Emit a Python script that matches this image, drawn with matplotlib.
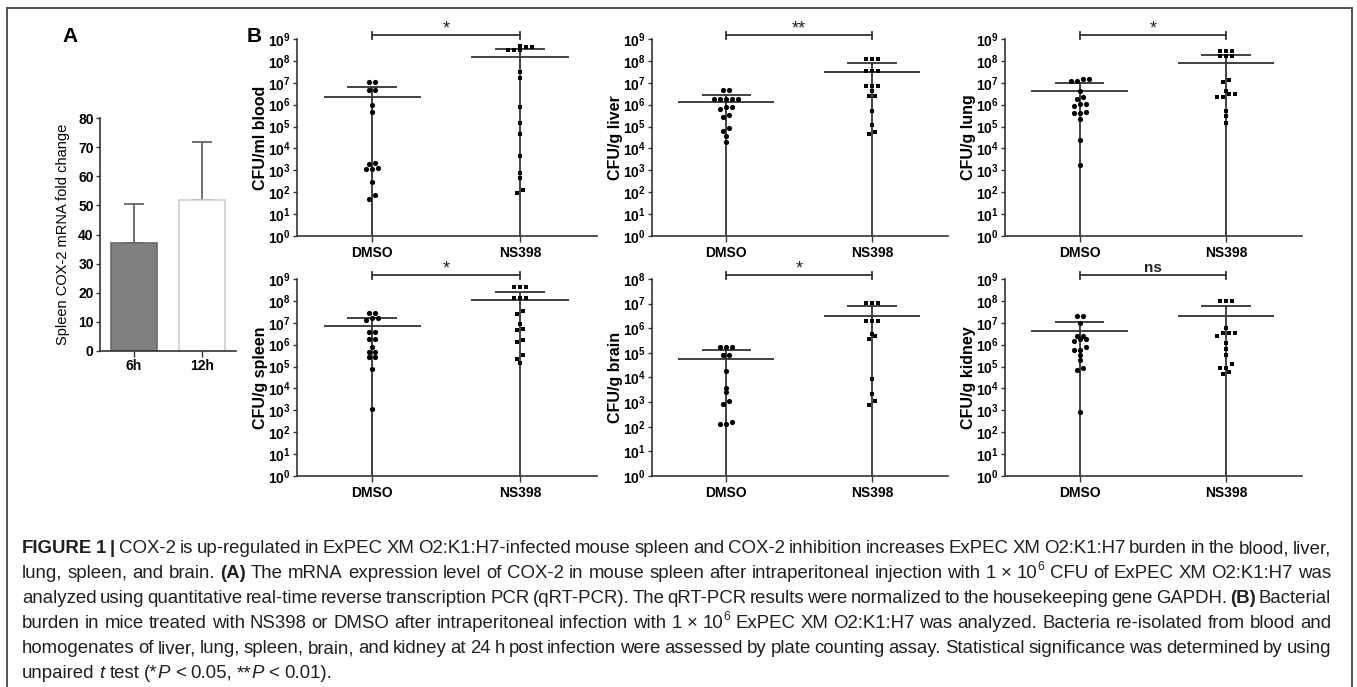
import numpy as np
import matplotlib
matplotlib.use("Agg")
import matplotlib.pyplot as plt
import matplotlib.ticker as mticker
import matplotlib.transforms as mtransforms
from matplotlib import font_manager

plt.rcParams["font.family"] = ["Liberation Sans", "DejaVu Sans"]
plt.rcParams["mathtext.fontset"] = "custom"
plt.rcParams["mathtext.rm"] = "Liberation Sans"
plt.rcParams["mathtext.bf"] = "Liberation Sans:bold"
plt.rcParams["mathtext.it"] = "Liberation Sans:italic"

# ---- data ----
# panel A
times = ["6h", "12h"]
fold_change = [37.1, 51.8]
fold_sd = [13.4, 19.8]

# panel B, CFU counts
groups = ["DMSO", "NS398"]
blood_dmso = [1.1e7, 1.1e7, 4.6e6, 4.6e6, 9.8e5, 4.4e5, 2.2e3, 2.0e3, 1.3e3, 1.1e3, 1.1e3, 3.0e2, 72, 48]
blood_ns398 = [5e8, 4.5e8, 4.5e8, 3.1e8, 3.1e8, 3.1e8, 3e7, 1.6e7, 7.6e5, 1.5e5, 4.5e4, 4.3e3, 7.6e2, 4.5e2, 1.2e2, 93]
liver_dmso = [4.8e6, 4.8e6, 1.8e6, 1.8e6, 1.8e6, 1.8e6, 1.8e6, 8.1e5, 8.1e5, 6.2e5, 3.4e5, 2.7e5, 8.3e4, 6.3e4, 3.7e4, 2.0e4]
liver_ns398 = [1.23e8, 1.23e8, 1.23e8, 3.3e7, 3.3e7, 3.3e7, 7.2e6, 7.2e6, 6.8e6, 4.0e6, 2.6e6, 2.6e6, 4.9e5, 1.2e5, 5.4e4, 4.7e4]
lung_dmso = [1.45e7, 1.45e7, 1.15e7, 1.15e7, 4.0e6, 2.3e6, 1.9e6, 1.05e6, 1.05e6, 8.9e5, 4.6e5, 4.1e5, 4.1e5, 2.2e5, 2.5e4, 1.8e3]
lung_ns398 = [2.7e8, 2.7e8, 2.7e8, 1.6e8, 1.6e8, 1.6e8, 1.4e7, 1.1e7, 4.3e6, 3.1e6, 3.0e6, 2.2e6, 2.2e6, 5.4e5, 2.9e5, 1.4e5]
spleen_dmso = [2.75e7, 2.75e7, 1.6e7, 1.6e7, 1.3e7, 3.7e6, 3.7e6, 1.8e6, 1.8e6, 7.6e5, 4.4e5, 4.4e5, 2.7e5, 2.7e5, 7.8e4, 1.1e3]
spleen_ns398 = [4.1e8, 4.1e8, 4.1e8, 1.3e8, 1.3e8, 1.3e8, 3.6e7, 2.6e7, 8.7e6, 5.1e6, 4.8e6, 1.66e6, 1.26e6, 3.2e5, 2.2e5, 1.4e5]
brain_dmso = [1.7e5, 1.7e5, 1.7e5, 8.3e4, 8.3e4, 1.9e4, 3.9e3, 2.5e3, 1.1e3, 8.3e2, 1.6e2, 1.3e2, 1.3e2]
brain_ns398 = [1.1e7, 1.1e7, 1.1e7, 2.0e6, 2.0e6, 2.0e6, 6.0e5, 4.9e5, 3.7e5, 8.5e3, 2.2e3, 1.1e3, 7.8e2]
kidney_dmso = [2.1e7, 2.1e7, 1.0e7, 2.5e6, 2.5e6, 1.9e6, 1.9e6, 1.5e6, 8.1e5, 5.8e5, 5.8e5, 3.4e5, 1.9e5, 8.9e4, 7.1e4, 8e2]
kidney_ns398 = [1.0e8, 1.0e8, 1.0e8, 6.0e6, 3.5e6, 3.5e6, 3.5e6, 2.5e6, 1.2e6, 6.2e5, 3.4e5, 1.3e5, 8.9e4, 8.9e4, 5.4e4, 4.5e4]

ylabels = ["CFU/ml blood", "CFU/g liver", "CFU/g lung", "CFU/g spleen", "CFU/g brain", "CFU/g kidney"]
signif = ["*", "**", "*", "*", "*", "ns"]
top_decade = [9, 9, 9, 9, 8, 9]

caption_lines = [
    [("FIGURE 1 | ", "b"), ("COX-2 is up-regulated in ExPEC XM O2:K1:H7-infected mouse spleen and COX-2 inhibition increases ExPEC XM O2:K1:H7 burden in the blood, liver,", "n")],
    [("lung, spleen, and brain. ", "n"), ("(A)", "b"), (" The mRNA expression level of COX-2 in mouse spleen after intraperitoneal injection with 1 \u00d7 10", "n"), ("6", "s"), (" CFU of ExPEC XM O2:K1:H7 was", "n")],
    [("analyzed using quantitative real-time reverse transcription PCR (qRT-PCR). The qRT-PCR results were normalized to the housekeeping gene GAPDH. ", "n"), ("(B)", "b"), (" Bacterial", "n")],
    [("burden in mice treated with NS398 or DMSO after intraperitoneal infection with 1 \u00d7 10", "n"), ("6", "s"), (" ExPEC XM O2:K1:H7 was analyzed. Bacteria re-isolated from blood and", "n")],
    [("homogenates of liver, lung, spleen, brain, and kidney at 24 h post infection were assessed by plate counting assay. Statistical significance was determined by using", "n")],
    [("unpaired ", "n"), ("t", "i"), (" test (*", "n"), ("P", "i"), (" < 0.05, **", "n"), ("P", "i"), (" < 0.01).", "n")],
]

# ---- layout ----
W, H = 1357, 687
fig = plt.figure(figsize=(W / 100, H / 100), dpi=100)
ident = mtransforms.IdentityTransform()
dark = "#333333"


def box(l, r, t, b):
    return [l / W, 1 - b / H, (r - l) / W, (b - t) / H]


def style(ax):
    for s in ["top", "right"]:
        ax.spines[s].set_visible(False)
    for s in ["left", "bottom"]:
        ax.spines[s].set_color(dark)
        ax.spines[s].set_linewidth(1.2)
    ax.tick_params(direction="out", length=4, width=1.0, color=dark, labelsize=10, pad=2)
    ax.tick_params(axis="y", length=3, pad=1.5)


# outer frame
for xs, ys in [([7, 1352], [8, 8]), ([7, 7], [8, 700]), ([1352, 1352], [8, 700])]:
    fig.add_artist(plt.Line2D(xs, [H - v for v in ys], transform=ident, color="#555555", lw=1.4))

# ---- panel A ----
axA = fig.add_axes(box(100, 236, 118, 351))
style(axA)
xa = np.arange(len(times))
axA.bar(xa, fold_change, width=0.68, color=["#808080", "white"],
        edgecolor=["#6a6a6a", "#cfcfcf"], linewidth=1.2, zorder=2)
axA.errorbar(xa, fold_change, yerr=[np.zeros(len(xa)), fold_sd], fmt="none",
             ecolor="#666666", elinewidth=1.3, capsize=7, capthick=1.3, zorder=1)
axA.set_xlim(-0.5, 1.5)
axA.set_ylim(0, 80)
axA.set_yticks(np.arange(0, 81, 10))
axA.set_xticks(xa)
axA.set_xticklabels(times, fontweight="bold", fontsize=10)
plt.setp(axA.get_yticklabels(), fontweight="bold")
axA.set_ylabel("Spleen COX-2 mRNA fold change", fontsize=10.5)
axA.yaxis.set_label_coords(-0.22, 0.5)
fig.text(70 / W, 1 - 36 / H, "A", fontsize=15, fontweight="bold", ha="center", va="center")
fig.text(254 / W, 1 - 36 / H, "B", fontsize=15, fontweight="bold", ha="center", va="center")


# ---- panel B ----
def swarm_x(ax, x0, vals, step=6.0, tol=4.0):
    pts = ax.transData.transform(np.column_stack([np.full(len(vals), x0), vals]))
    ys = pts[:, 1]
    xs = pts[:, 0].copy()
    rows = []
    for i in np.argsort(ys):
        if rows and ys[i] - ys[rows[-1][0]] <= tol:
            rows[-1].append(i)
        else:
            rows.append([i])
    for row in rows:
        offs = (np.arange(len(row)) - (len(row) - 1) / 2) * step
        for j, i in enumerate(row):
            xs[i] = pts[i, 0] + offs[j]
    return ax.transData.inverted().transform(np.column_stack([xs, ys]))[:, 0]


data_b = [(blood_dmso, blood_ns398), (liver_dmso, liver_ns398), (lung_dmso, lung_ns398),
          (spleen_dmso, spleen_ns398), (brain_dmso, brain_ns398), (kidney_dmso, kidney_ns398)]
cols = [(297, 597), (652, 948), (1005, 1302)]
rows_px = [(39, 236), (279, 476)]

for k, (dm, ns) in enumerate(data_b):
    l, r = cols[k % 3]
    t, b = rows_px[k // 3]
    ax = fig.add_axes(box(l, r, t, b))
    style(ax)
    ax.set_yscale("log")
    ax.set_ylim(1, 10.0 ** top_decade[k])
    ax.set_xlim(-0.51, 1.52)
    ax.yaxis.set_major_locator(mticker.FixedLocator([10.0 ** e for e in range(top_decade[k] + 1)]))
    ax.yaxis.set_minor_locator(mticker.NullLocator())
    ax.yaxis.set_major_formatter(mticker.FuncFormatter(
        lambda v, p: r"$\mathbf{10^{%d}}$" % round(np.log10(v))))
    ax.set_xticks([0, 1])
    ax.set_xticklabels(groups, fontweight="bold", fontsize=10)
    ax.tick_params(axis="x", pad=3)
    ax.set_ylabel(ylabels[k], fontsize=11.5, fontweight="bold")
    ax.yaxis.set_label_coords(-29.0 / (r - l), 0.5)

    for i, (vals, mk, ms) in enumerate([(dm, "o", 14), (ns, "s", 12)]):
        vals = np.array(vals)
        m = vals.mean()
        sd = vals.std(ddof=1)
        lo = m - sd
        ax.hlines(m, i - 0.33, i + 0.33, color=dark, lw=1.3, zorder=2)
        ax.hlines(m + sd, i - 0.17, i + 0.17, color=dark, lw=1.3, zorder=2)
        ax.vlines(i, lo if lo > 1 else 1, m + sd, color=dark, lw=1.3, zorder=2)
        if lo > 1:
            ax.hlines(lo, i - 0.17, i + 0.17, color=dark, lw=1.3, zorder=2)
        ax.scatter(swarm_x(ax, i, vals), vals, s=ms, marker=mk, color="black",
                   linewidths=0, zorder=3, clip_on=False)

    trans = mtransforms.blended_transform_factory(ax.transData, ax.transAxes)
    ax.plot([0, 1], [1.02, 1.02], transform=trans, color=dark, lw=1.3, clip_on=False)
    for xx in [0, 1]:
        ax.plot([xx, xx], [1.0, 1.037], transform=trans, color=dark, lw=1.3, clip_on=False)
    if signif[k] == "ns":
        ax.text(0.5, 1.035, "ns", transform=trans, ha="center", va="baseline",
                fontsize=11, fontweight="bold", color="#222222")
    else:
        ax.text(0.5, 1.03, signif[k], transform=trans, ha="center", va="baseline",
                fontsize=13, color="#222222")

# ---- caption ----
names = {f.name for f in font_manager.fontManager.ttflist}
cap_font = "Liberation Sans Narrow" if "Liberation Sans Narrow" in names else "Liberation Sans"
cap_size = 13.4
cap_left, cap_right = 22, 1331
renderer = fig.canvas.get_renderer()


def piece(txt, st, y):
    kw = dict(fontsize=cap_size, family=cap_font, color="#231f20",
              transform=ident, va="baseline", ha="left")
    if st == "b":
        kw["fontweight"] = "bold"
    if st == "i":
        kw["fontstyle"] = "italic"
    if st == "s":
        kw["fontsize"] = cap_size * 0.65
        y = y + cap_size * 0.42 * 100 / 72
    t = fig.text(0, y, txt, **kw)
    return t, t.get_window_extent(renderer).width


def to_words(segs):
    words = [[]]
    for txt, st in segs:
        for j, p in enumerate(txt.split(" ")):
            if j > 0:
                words.append([])
            if p:
                words[-1].append((p, st))
    return [w for w in words if w]


for n, segs in enumerate(caption_lines):
    y = H - (553 + 25 * n)
    words = to_words(segs)
    placed = []
    widths = []
    for w in words:
        arts = []
        tot = 0
        for txt, st in w:
            t, wd = piece(txt, st, y)
            arts.append((t, tot))
            tot += wd
        placed.append(arts)
        widths.append(tot)
    if n < len(caption_lines) - 1:
        gap = (cap_right - cap_left - sum(widths)) / (len(words) - 1)
    else:
        gap = cap_size * 0.26 * 100 / 72
    x = cap_left
    for arts, wd in zip(placed, widths):
        for t, off in arts:
            t.set_x(x + off)
        x += wd + gap

fig.savefig("out.png", dpi=100)
